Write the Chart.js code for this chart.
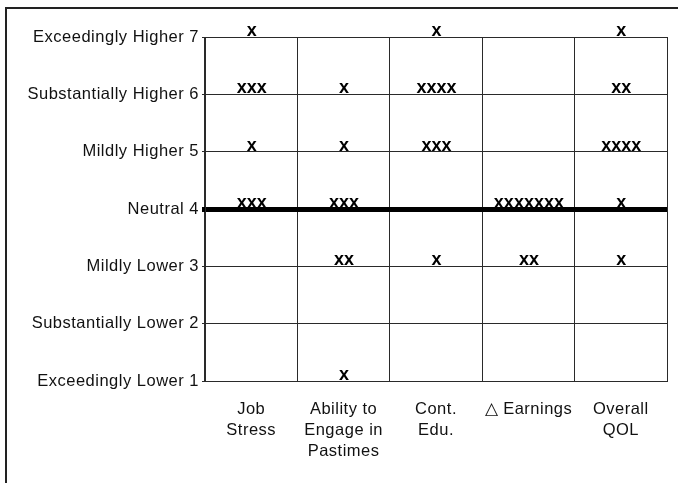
<!DOCTYPE html>
<html>
<head>
<meta charset="utf-8">
<script src="https://cdn.jsdelivr.net/npm/chart.js@4/dist/chart.umd.min.js"></script>
<style>
    html, body { margin: 0; padding: 0; background: #fff; }
    #wrap { position: relative; width: 678px; height: 483px; overflow: hidden; }
    #frame {
        position: absolute; left: 5px; top: 7px; width: 700px; height: 500px;
        border-left: 2px solid #222; border-top: 2px solid #222;
    }
    #chart { position: absolute; left: 0; top: 0; }
</style>
</head>
<body>
<div id="wrap">
    <div id="frame"></div>
    <canvas id="chart" width="678" height="483"></canvas>
</div>
<script>
// Categories (x axis) and how they wrap on screen
const categories = ['Job Stress', 'Ability to Engage in Pastimes', 'Cont. Edu.', '\u25B3 Earnings', 'Overall QOL'];
const categoryLines = [
    ['Job', 'Stress'],
    ['Ability to', 'Engage in', 'Pastimes'],
    ['Cont.', 'Edu.'],
    ['\u25B3 Earnings'],
    ['Overall', 'QOL']
];

// Rating scale labels (y axis, value 1..7)
const ratingLabels = [
    'Exceedingly Lower 1',
    'Substantially Lower 2',
    'Mildly Lower 3',
    'Neutral 4',
    'Mildly Higher 5',
    'Substantially Higher 6',
    'Exceedingly Higher 7'
];

// Number of "x" responses at each rating 1..7
const jobStress  = [0, 0, 0, 3, 1, 3, 1];
const pastimes   = [1, 0, 2, 3, 1, 1, 0];
const contEdu    = [0, 0, 1, 0, 3, 4, 1];
const earnings   = [0, 0, 2, 7, 0, 0, 0];
const overallQol = [0, 0, 1, 1, 4, 2, 1];

const seriesCounts = [jobStress, pastimes, contEdu, earnings, overallQol];

// Build the points: one per non-empty cell
const points = [];
seriesCounts.forEach((counts, ci) => {
    counts.forEach((n, li) => {
        if (n > 0) points.push({ x: categories[ci], y: li + 1, n: n });
    });
});

const FONT = '"Liberation Sans", Arial, Helvetica, sans-serif';
const SPACING = '0.5px';

// Letter spacing for the wide type look
const spacingPlugin = {
    id: 'spacing',
    beforeLayout(chart) { chart.ctx.letterSpacing = SPACING; },
    beforeDraw(chart) { chart.ctx.letterSpacing = SPACING; }
};

// Draw the "x" tallies at each point
const tallyPlugin = {
    id: 'tally',
    afterDatasetsDraw(chart) {
        const ctx = chart.ctx;
        const meta = chart.getDatasetMeta(0);
        ctx.save();
        ctx.letterSpacing = '0px';
        ctx.font = 'bold 18px ' + FONT;
        ctx.fillStyle = '#000';
        ctx.textAlign = 'center';
        ctx.textBaseline = 'alphabetic';
        meta.data.forEach((el, i) => {
            const p = chart.data.datasets[0].data[i];
            ctx.fillText('x'.repeat(p.n), el.x + 0.5, el.y - 1);
        });
        ctx.restore();
    }
};

new Chart(document.getElementById('chart'), {
    type: 'scatter',
    data: {
        labels: categories,
        datasets: [{
            data: points,
            pointRadius: 0,
            pointHoverRadius: 0
        }]
    },
    options: {
        responsive: false,
        animation: false,
        events: [],
        layout: { padding: { left: 0, right: 11, top: 37, bottom: 0 } },
        plugins: {
            legend: { display: false },
            tooltip: { enabled: false }
        },
        scales: {
            x: {
                type: 'category',
                labels: categories,
                offset: true,
                afterFit: (scale) => { scale.height = 102; },
                grid: {
                    offset: true,
                    color: '#2a2a2a',
                    lineWidth: 1,
                    drawTicks: false
                },
                border: { color: '#2a2a2a', width: 1 },
                ticks: {
                    color: '#111',
                    padding: 18,
                    maxRotation: 0,
                    autoSkip: false,
                    font: { family: FONT, size: 16.5, lineHeight: 1.27 },
                    callback: (v, i) => categoryLines[i]
                }
            },
            y: {
                min: 1,
                max: 7,
                afterFit: (scale) => { scale.width = 205; },
                grid: {
                    color: (ctx) => (ctx.tick && ctx.tick.value === 4 ? '#000' : '#2a2a2a'),
                    lineWidth: (ctx) => (ctx.tick && ctx.tick.value === 4 ? 5 : 1),
                    tickLength: 3
                },
                border: { color: '#2a2a2a', width: 1 },
                ticks: {
                    stepSize: 1,
                    color: '#111',
                    padding: 3,
                    font: { family: FONT, size: 16.5 },
                    callback: (v) => ratingLabels[v - 1]
                }
            }
        }
    },
    plugins: [spacingPlugin, tallyPlugin]
});
</script>
</body>
</html>
